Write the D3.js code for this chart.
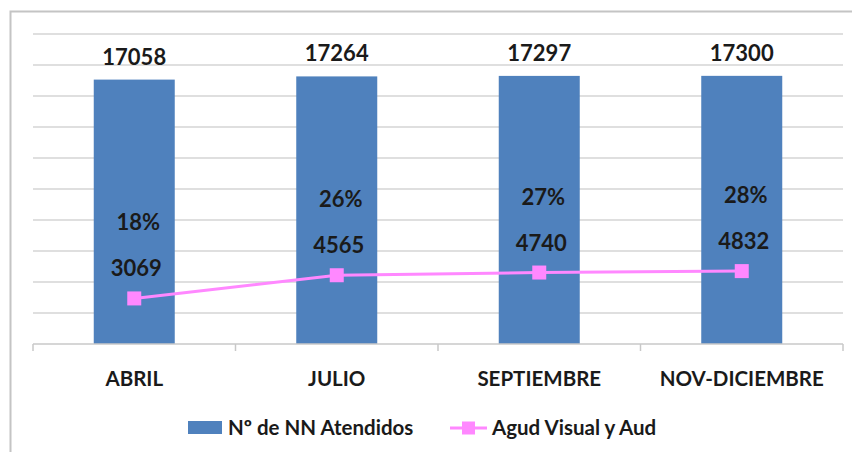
<!DOCTYPE html>
<html>
<head>
<meta charset="utf-8">
<script src="https://cdn.jsdelivr.net/npm/d3@7"></script>
<style>
  body { margin: 0; background: #fff; }
  svg { display: block; font-family: Lato, "Open Sans", sans-serif; }
</style>
</head>
<body>
<div id="chart"></div>
<script>
// data
const months = ["ABRIL", "JULIO", "SEPTIEMBRE", "NOV-DICIEMBRE"];
const atendidos = [17058, 17264, 17297, 17300];
const agudVisual = [3069, 4565, 4740, 4832];
const percents = ["18%", "26%", "27%", "28%"];
const seriesNames = ["Nº de NN Atendidos", "Agud Visual y Aud"];

const width = 852, height = 452;
const plot = {left: 33, right: 843, top: 34, bottom: 344};
const barColor = "#4f81bd", lineColor = "#ff88ff", gridColor = "#d4d4d4";

const svg = d3.select("#chart").append("svg")
    .attr("width", width).attr("height", height);

// outer chart frame (cropped on right / bottom)
svg.append("rect")
    .attr("x", 10.5).attr("y", 11.5)
    .attr("width", 900).attr("height", 500)
    .attr("fill", "none").attr("stroke", "#c4c4c4").attr("stroke-width", 2);

const x = d3.scaleBand().domain(months)
    .range([plot.left, plot.right])
    .paddingInner(0.6).paddingOuter(0.3);

const xCat = d3.scaleBand().domain(months)
    .range([plot.left, plot.right]).padding(0);

const y = d3.scaleLinear().domain([0, 20000])
    .range([plot.bottom, plot.top]);

// gridlines
svg.append("g").selectAll("line")
    .data(y.ticks(10).filter(d => d > 0))
    .join("line")
    .attr("x1", plot.left).attr("x2", plot.right)
    .attr("y1", d => y(d)).attr("y2", d => y(d))
    .attr("stroke", gridColor).attr("stroke-width", 1.5);

// bars
svg.append("g").selectAll("rect")
    .data(atendidos)
    .join("rect")
    .attr("x", (d, i) => x(months[i]))
    .attr("y", d => y(d))
    .attr("width", x.bandwidth())
    .attr("height", d => y(0) - y(d))
    .attr("fill", barColor);

// x axis line + ticks between categories
const axisG = svg.append("g");
axisG.append("line")
    .attr("x1", plot.left).attr("x2", plot.right)
    .attr("y1", y(0)).attr("y2", y(0))
    .attr("stroke", "#c8c8c8").attr("stroke-width", 1.5);
const tickPos = months.map(m => xCat(m)).concat([xCat(months[months.length - 1]) + xCat.step()]);
axisG.selectAll("line.tick")
    .data(tickPos)
    .join("line")
    .attr("class", "tick")
    .attr("x1", d => d).attr("x2", d => d)
    .attr("y1", y(0)).attr("y2", y(0) + 7)
    .attr("stroke", "#c8c8c8").attr("stroke-width", 1.5);

axisG.selectAll("text")
    .data(months)
    .join("text")
    .attr("x", d => x(d) + x.bandwidth() / 2)
    .attr("y", y(0) + 42)
    .attr("text-anchor", "middle")
    .attr("font-size", 20.5)
    .attr("font-weight", "bold")
    .attr("fill", "#1a1a1a")
    .text(d => d);

// bar value labels
svg.append("g").selectAll("text")
    .data(atendidos)
    .join("text")
    .attr("x", (d, i) => x(months[i]) + x.bandwidth() / 2)
    .attr("y", d => y(d) - 15)
    .attr("text-anchor", "middle")
    .attr("font-size", 22)
    .attr("font-weight", "bold")
    .attr("fill", "#1a1a1a")
    .text(d => d);

// line series
const cx = i => x(months[i]) + x.bandwidth() / 2;
const line = d3.line()
    .x((d, i) => cx(i))
    .y(d => y(d) + 2);

svg.append("path")
    .datum(agudVisual)
    .attr("d", line)
    .attr("fill", "none")
    .attr("stroke", lineColor)
    .attr("stroke-width", 3);

const ms = 14;
svg.append("g").selectAll("rect")
    .data(agudVisual)
    .join("rect")
    .attr("x", (d, i) => cx(i) - ms / 2)
    .attr("y", d => y(d) + 2 - ms / 2)
    .attr("width", ms).attr("height", ms)
    .attr("fill", lineColor);

// line value labels
svg.append("g").selectAll("text")
    .data(agudVisual)
    .join("text")
    .attr("x", (d, i) => cx(i) + 2)
    .attr("y", d => y(d) - 20)
    .attr("text-anchor", "middle")
    .attr("font-size", 22)
    .attr("font-weight", "bold")
    .attr("fill", "#1a1a1a")
    .text(d => d);

// percentage labels
svg.append("g").selectAll("text")
    .data(percents)
    .join("text")
    .attr("x", (d, i) => cx(i) + 4)
    .attr("y", (d, i) => y(agudVisual[i]) - 66)
    .attr("text-anchor", "middle")
    .attr("font-size", 22)
    .attr("font-weight", "bold")
    .attr("fill", "#1a1a1a")
    .text(d => d);

// legend
const legend = svg.append("g").attr("transform", "translate(188,428)");
legend.append("rect")
    .attr("x", 0).attr("y", -7).attr("width", 34).attr("height", 13)
    .attr("fill", barColor);
legend.append("text")
    .attr("x", 40).attr("y", 7)
    .attr("font-size", 20.5).attr("font-weight", "bold").attr("fill", "#1a1a1a")
    .text(seriesNames[0]);
const l2 = legend.append("g").attr("transform", "translate(262,0)");
l2.append("line")
    .attr("x1", 0).attr("x2", 37).attr("y1", 0).attr("y2", 0)
    .attr("stroke", lineColor).attr("stroke-width", 3);
l2.append("rect")
    .attr("x", 18.5 - 6.5).attr("y", -6.5).attr("width", 13).attr("height", 13)
    .attr("fill", lineColor);
l2.append("text")
    .attr("x", 42).attr("y", 7)
    .attr("font-size", 20.5).attr("font-weight", "bold").attr("fill", "#1a1a1a")
    .text(seriesNames[1]);
</script>
</body>
</html>
